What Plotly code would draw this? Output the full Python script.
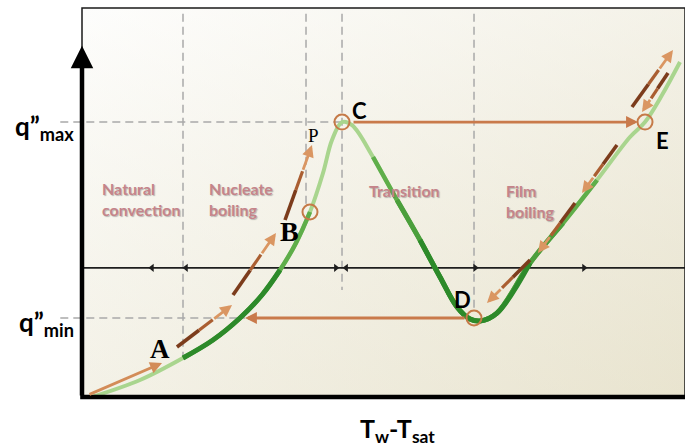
import plotly.graph_objects as go

# Pool boiling curve: wall superheat (arbitrary units) against heat flux (arbitrary units)
curve_dT = [1.66, 9.62, 16.75, 21.72, 26.20, 29.85, 32.84, 35.49, 37.81, 39.97, 41.46, 43.12,
            44.78, 48.26, 52.24, 56.05, 59.37, 62.19, 64.34, 66.00, 68.82, 74.30, 79.77, 85.41,
            90.88, 93.37, 96.19, 99.17]
curve_q = [0.0, 4.37, 10.03, 14.65, 20.31, 26.22, 32.65, 39.59, 47.56, 57.58, 66.07, 70.69,
           69.90, 61.70, 50.64, 40.36, 30.85, 23.14, 20.05, 19.54, 21.59, 34.45, 44.73, 55.78,
           66.84, 70.69, 77.63, 86.12]

# Critical and minimum heat flux levels
q_max = 70.7
q_min = 20.3

# Superheat where one boiling regime gives way to the next
regime_edges = [16.75, 37.15, 43.12, 65.01]
regime_names = ["Natural<br>convection", "Nucleate<br>boiling", "Transition", "Film<br>boiling"]

# Marked states on the curve
state_names = ["B", "C", "D", "E"]
state_dT = [37.81, 43.12, 65.01, 93.37]
state_q = [47.56, 70.69, 20.31, 70.69]

# Heating / cooling path arrows (tail -> head)
path_tail_dT = [1.00, 15.75, 25.04, 33.67, 44.78, 63.68, 88.72, 81.76, 74.30, 91.21, 97.18]
path_tail_q = [0.51, 12.85, 26.22, 45.50, 70.69, 20.31, 64.78, 49.87, 35.22, 74.55, 83.29]
path_head_dT = [13.27, 24.88, 32.17, 38.14, 92.20, 27.03, 82.92, 75.62, 67.16, 98.01, 92.87]
path_head_q = [8.74, 23.65, 42.16, 64.78, 70.69, 20.31, 52.44, 37.02, 24.16, 89.20, 73.26]

# Regime divider with direction ticks
divider_q = 33.2
divider_tick_dT = [11.6, 17.25, 42.1, 43.8, 65.2, 83.25]
divider_tick_dir = ["left", "left", "right", "left", "right", "right"]

# ---------------------------------------------------------------- styling
path_shaded = [False, True, True, True, False, False, True, True, True, True, True]
path_color = ["#d38c58", None, None, None, "#c97a4b", "#c97a4b", None, None, None, None, None]
DARK_BROWN = "#7c3c1c"
MID_BROWN = "#aa5e31"
ORANGE = "#da9662"
LIGHT_GREEN = "#a9d58e"
MID_GREEN = "#5fae4a"
DARK_GREEN = "#2d8a2a"
DASH_GREY = "#a9a9a9"
REGIME_TEXT = "#c5848a"

fig = go.Figure()

# Frame background (warm gradient)
frame_x = [0, 100, 100, 0, 0]
frame_y = [0, 0, 100, 100, 0]
fig.add_trace(go.Scatter(x=frame_x, y=frame_y, fill="toself", mode="none",
                         fillgradient=dict(type="horizontal",
                                           colorscale=[[0, "#fcfcfa"], [1, "#ebe7d5"]]),
                         hoverinfo="skip", showlegend=False))
fig.add_trace(go.Scatter(x=frame_x, y=frame_y, fill="toself", mode="none",
                         fillgradient=dict(type="vertical",
                                           colorscale=[[0, "rgba(228,222,196,0.35)"],
                                                       [1, "rgba(255,255,255,0.45)"]]),
                         hoverinfo="skip", showlegend=False))


def line(xs, ys, color, width, dash=None, shape="linear"):
    fig.add_trace(go.Scatter(x=xs, y=ys, mode="lines",
                             line=dict(color=color, width=width, dash=dash, shape=shape),
                             hoverinfo="skip", showlegend=False))


# Guide lines for q''max, q''min and regime boundaries
line([-3.6, state_dT[1]], [q_max, q_max], DASH_GREY, 1.5, "8px,5px")
line([-3.6, path_head_dT[5]], [q_min, q_min], DASH_GREY, 1.5, "8px,5px")
edge_bottoms = [curve_q[2], state_q[0] + 2, 27.5, state_q[2] + 1.6]
for ex, eb in zip(regime_edges, edge_bottoms):
    line([ex, ex], [98.5, eb], DASH_GREY, 1.5, "8px,5px")

# Regime divider
line([0, 100], [divider_q, divider_q], "#1e1e1e", 1.6)
for tx, td in zip(divider_tick_dT, divider_tick_dir):
    fig.add_trace(go.Scatter(x=[tx], y=[divider_q], mode="markers",
                             marker=dict(symbol="triangle-" + td, size=7, color="#1e1e1e"),
                             hoverinfo="skip", showlegend=False))

# Boiling curve, shaded by segment
line(curve_dT, curve_q, LIGHT_GREEN, 4, shape="spline")
for a, b, col, w in [(2, 9, MID_GREEN, 4.5), (2, 7, DARK_GREEN, 5),
                     (13, 24, MID_GREEN, 4.5), (14, 23, "#4b9f3c", 5), (15, 22, DARK_GREEN, 5)]:
    line(curve_dT[a:b], curve_q[a:b], col, w, shape="spline")

# Path arrows
for i in range(len(path_tail_dT)):
    tx, ty = path_tail_dT[i], path_tail_q[i]
    hx, hy = path_head_dT[i], path_head_q[i]
    if path_shaded[i]:
        m1x, m1y = tx + 0.4 * (hx - tx), ty + 0.4 * (hy - ty)
        m2x, m2y = tx + 0.65 * (hx - tx), ty + 0.65 * (hy - ty)
        line([tx, m1x], [ty, m1y], DARK_BROWN, 3.6)
        line([m1x, m2x], [m1y, m2y], MID_BROWN, 3.2)
        sx, sy, col = m2x, m2y, ORANGE
    else:
        sx, sy, col = tx, ty, path_color[i]
    fig.add_annotation(x=hx, y=hy, ax=sx, ay=sy, xref="x", yref="y", axref="x", ayref="y",
                       text="", showarrow=True, arrowhead=2, arrowsize=0.85,
                       arrowwidth=2.8, arrowcolor=col, standoff=0)

# State markers
fig.add_trace(go.Scatter(x=state_dT, y=state_q, mode="markers",
                         marker=dict(symbol="circle-open", size=15, color="#c57a48",
                                     line=dict(width=2, color="#c57a48")),
                         hoverinfo="skip", showlegend=False))

# Frame and axes
fig.add_shape(type="rect", x0=0, x1=100, y0=0, y1=100, xref="x", yref="y",
              line=dict(color="#1a1a1a", width=1.5))
fig.add_shape(type="line", x0=-0.3, x1=100, y0=0, y1=0, xref="x", yref="y",
              line=dict(color="#000000", width=4.5))
fig.add_annotation(x=0, y=90.3, ax=0, ay=0, xref="x", yref="y", axref="x", ayref="y",
                   text="", showarrow=True, arrowhead=2, arrowsize=1.0, arrowwidth=4.5,
                   arrowcolor="#000000", standoff=0)

# Regime labels
regime_pos = [(2.98, 50.9), (20.73, 50.9), (47.26, 53.2), (69.98, 50.4)]
for name, (lx, ly) in zip(regime_names, regime_pos):
    fig.add_annotation(x=lx, y=ly, xref="x", yref="y", text="<b>" + name.replace("<br>", "</b><br><b>") + "</b>",
                       showarrow=False, xanchor="left", yanchor="middle", align="left",
                       font=dict(family="Lato", size=16, color=REGIME_TEXT,
                                 shadow="1px 1px 1px rgba(90,90,90,0.4)"))

# Point labels
serif = dict(family="Liberation Serif", color="#000000")
sans = dict(family="Lato", color="#000000", weight="bold", size=22)
fig.add_annotation(x=12.94, y=12.34, text="<b>A</b>", showarrow=False,
                   font=dict(**serif, size=27))
fig.add_annotation(x=34.33, y=42.42, text="<b>B</b>", showarrow=False,
                   font=dict(**serif, size=28))
fig.add_annotation(x=38.31, y=67.35, text="P", showarrow=False,
                   font=dict(**serif, size=19))
label_pos = {"C": (46.1, 73.65), "D": (63.18, 24.94), "E": (96.19, 66.07)}
for k, (lx, ly) in label_pos.items():
    fig.add_annotation(x=lx, y=ly, text=k, showarrow=False, font=sans)

# Axis labels
fig.add_annotation(x=-1.0, y=q_max - 1.4, text="q”<sub>max</sub>", showarrow=False,
                   xanchor="right", yanchor="middle",
                   font=dict(family="Lato", size=26, weight="bold", color="#000000"))
fig.add_annotation(x=-1.0, y=q_min - 1.4, text="q”<sub>min</sub>", showarrow=False,
                   xanchor="right", yanchor="middle",
                   font=dict(family="Lato", size=26, weight="bold", color="#000000"))
fig.add_annotation(x=52.4, y=-8.4, text="T<sub>w</sub>-T<sub>sat</sub>", showarrow=False,
                   font=dict(family="Lato", size=25, weight="bold", color="#000000"))

fig.update_layout(
    width=685, height=448,
    margin=dict(l=0, r=0, t=0, b=0),
    paper_bgcolor="#ffffff", plot_bgcolor="#ffffff",
    xaxis=dict(range=[-13.598, 100], visible=False, fixedrange=True),
    yaxis=dict(range=[-13.11, 102.06], visible=False, fixedrange=True),
    showlegend=False,
)

fig.write_html("out.html")
